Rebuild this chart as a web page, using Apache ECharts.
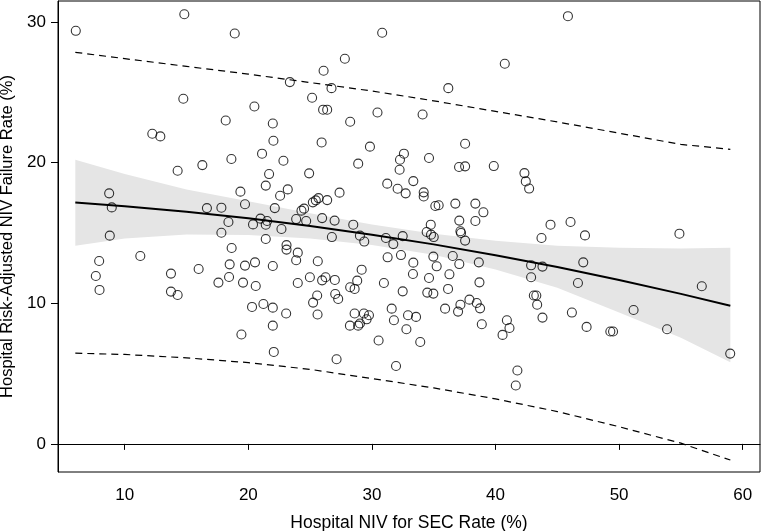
<!DOCTYPE html>
<html>
<head>
<meta charset="utf-8">
<script src="https://cdn.jsdelivr.net/npm/echarts@6/dist/echarts.min.js"></script>
<style>
html,body{margin:0;padding:0;background:#fff;}
#chart{width:762px;height:531px;}
</style>
</head>
<body>
<div id="chart"></div>
<script>
// Hospital points: [NIV for SEC rate %, risk-adjusted NIV failure rate %]
const hospitalX = [6.04,14.82,18.90,14.74,20.49,18.17,12.23,12.88,18.63,16.28,14.28,
30.83,27.81,40.75,26.09,23.36,26.73,36.18,25.16,26.05,26.38,30.45,34.10,21.98,28.24,22.03,25.93,37.54,29.84,21.11,22.84,32.59,32.27,34.62,28.89,37.05,37.54,39.86,32.24,21.68,24.92,
45.86,
8.74,8.95,8.79,7.93,7.66,7.96,11.26,13.74,13.74,14.28,15.98,16.65,17.82,19.36,19.73,18.39,17.82,18.65,20.38,18.49,19.73,18.44,17.58,19.57,20.30,19.44,
31.24,33.35,32.08,32.73,34.19,34.19,21.41,22.57,23.19,22.14,25.22,25.46,25.68,26.38,27.38,24.30,24.51,23.87,24.68,25.97,26.98,20.98,21.52,21.41,22.68,21.41,23.09,23.09,24.0,23.87,25.62,20.54,21.98,26.76,28.49,29.03,29.38,31.13,31.73,32.49,31.27,32.35,33.35,34.76,34.43,34.78,35.0,35.13,35.40,36.75,37.07,37.16,37.21,37.54,38.37,39.02,38.37,34.97,35.24,36.54,37.07,38.65,20.6,24.98,25.97,26.25,27.0,24.0,29.17,28.81,28.24,28.60,30.97,32.49,33.32,34.62,36.27,38.70,34.48,34.97,36.16,37.89,38.48,38.75,37.16,36.97,35.92,40.57,38.89,21.22,21.98,23.06,21.98,25.6,25.24,25.57,27.03,27.27,28.60,29.35,29.76,29.57,29.03,28.89,28.22,31.6,31.78,32.92,33.57,32.79,30.54,33.91,
42.34,42.45,42.72,44.45,46.07,43.72,47.24,54.88,47.1,42.88,43.80,42.88,46.67,43.1,43.3,43.37,43.80,46.18,47.37,49.29,49.51,51.17,53.88,56.69,40.92,41.13,
22.06,27.14,31.95,41.77,41.64,58.99];
const hospitalY = [29.38,30.56,29.19,24.55,24.0,23.0,22.06,21.87,20.26,19.83,19.43,
29.24,27.39,27.04,26.54,25.73,25.30,25.30,24.62,23.77,23.77,23.57,23.43,22.79,22.91,21.56,21.44,21.35,21.14,20.64,20.14,20.64,20.21,20.33,19.93,19.69,19.74,19.76,19.50,19.19,19.24,
30.42,
17.82,16.82,14.81,13.01,11.94,10.95,13.36,12.11,10.83,10.59,12.44,16.77,16.80,17.94,17.04,15.78,15.02,13.93,15.61,12.77,12.68,11.87,11.47,11.47,9.74,7.78,
18.51,18.69,18.15,17.82,17.89,17.60,18.37,17.65,18.10,16.77,17.18,17.32,17.48,17.34,17.87,16.59,16.73,15.99,15.85,16.06,15.88,16.02,15.85,15.59,15.28,14.57,14.14,13.82,13.6,13.06,12.99,12.91,12.65,14.71,15.59,14.81,14.39,14.64,14.21,14.78,13.27,13.43,12.89,15.59,15.07,14.88,14.71,16.92,16.97,17.09,15.88,15.12,15.0,14.46,17.09,16.47,15.85,13.32,12.63,13.36,12.79,12.91,11.23,11.85,11.63,11.85,11.66,11.44,12.39,11.61,11.14,11.02,11.44,10.85,12.08,11.8,12.06,11.49,10.76,10.69,11.02,10.26,10.02,9.64,9.9,9.41,9.62,7.75,8.51,9.95,9.69,9.27,8.41,9.2,10.05,10.55,10.66,10.31,9.27,9.27,9.15,8.86,8.56,8.41,8.41,9.62,8.79,9.15,9.03,8.15,7.35,7.25,
19.26,18.67,18.16,15.59,15.78,14.64,14.83,14.95,12.91,12.7,12.61,11.85,11.44,10.55,10.55,9.9,8.98,9.34,8.32,7.99,7.99,9.52,8.15,11.21,8.79,8.24,
6.54,6.02,5.54,5.22,4.15,6.42];

// Fitted curve, confidence band and prediction interval
const fitX    = [6, 10, 15, 20, 25, 30, 35, 40, 45, 50, 55, 59];
const fitY    = [17.16, 16.90, 16.51, 16.04, 15.50, 14.88, 14.19, 13.42, 12.58, 11.66, 10.67, 9.82];
const ciUpper = [20.2, 19.2, 18.1, 17.25, 16.4, 15.6, 14.95, 14.45, 14.1, 13.95, 13.9, 13.95];
const ciLower = [14.1, 14.6, 14.9, 14.85, 14.6, 14.15, 13.45, 12.4, 11.1, 9.35, 7.55, 5.8];
const piUpper = [27.85, 27.4, 26.85, 26.3, 25.7, 25.1, 24.4, 23.65, 22.9, 22.1, 21.3, 20.95];
const piLower = [6.45, 6.36, 6.12, 5.78, 5.3, 4.65, 3.98, 3.2, 2.3, 1.22, 0.05, -1.15];

const xTicks = [10, 20, 30, 40, 50, 60];
const yTicks = [0, 10, 20, 30];

const xName = 'Hospital NIV for SEC Rate (%)';
const yName = 'Hospital Risk-Adjusted NIV Failure Rate (%)';

const zip = (a, b) => a.map((v, i) => [v, b[i]]);
const FONT = '"Liberation Sans", Arial, Helvetica, sans-serif';

const chart = echarts.init(document.getElementById('chart'), null, {renderer: 'canvas'});
chart.setOption({
  animation: false,
  backgroundColor: '#fff',
  grid: {left: 58, right: 2, top: 1, bottom: 59, show: true, borderColor: '#000', borderWidth: 1,
         backgroundColor: 'transparent', containLabel: false, outerBoundsMode: 'none'},
  xAxis: {
    type: 'value', min: 4.6, max: 61.4,
    name: xName, nameLocation: 'middle', nameGap: 42,
    nameTextStyle: {fontFamily: FONT, fontSize: 17.5, color: '#000'},
    axisLine: {show: true, lineStyle: {color: '#000', width: 1}},
    axisTick: {show: true, length: 6, inside: false, lineStyle: {color: '#000', width: 1}, customValues: xTicks},
    axisLabel: {fontFamily: FONT, fontSize: 17, color: '#000', margin: 15, customValues: xTicks},
    splitLine: {show: false}
  },
  yAxis: {
    type: 'value', min: -2.0, max: 31.5,
    name: yName, nameLocation: 'middle', nameGap: 41,
    nameTextStyle: {fontFamily: FONT, fontSize: 16.5, color: '#000'},
    axisLine: {show: true, lineStyle: {color: '#000', width: 1}},
    axisTick: {show: true, length: 7, inside: false, lineStyle: {color: '#000', width: 1}, customValues: yTicks},
    axisLabel: {fontFamily: FONT, fontSize: 17, color: '#000', margin: 12, customValues: yTicks},
    splitLine: {show: false}
  },
  series: [
    {
      type: 'custom',
      silent: true,
      z: 1,
      data: [0],
      renderItem: function (params, api) {
        const pts = [];
        for (let i = 0; i < fitX.length; i++) pts.push(api.coord([fitX[i], ciUpper[i]]));
        for (let i = fitX.length - 1; i >= 0; i--) pts.push(api.coord([fitX[i], ciLower[i]]));
        return {type: 'polygon', shape: {points: pts}, style: {fill: '#e5e5e5', stroke: null}};
      }
    },
    {
      type: 'line', data: zip(fitX, piUpper), showSymbol: false, smooth: false, z: 2, silent: true,
      lineStyle: {color: '#000', width: 1.2, type: [7, 5]}
    },
    {
      type: 'line', data: zip(fitX, piLower), showSymbol: false, smooth: false, z: 2, silent: true,
      lineStyle: {color: '#000', width: 1.2, type: [7, 5]}
    },
    {
      type: 'line', data: zip(fitX, fitY), showSymbol: false, smooth: false, z: 3, silent: true,
      lineStyle: {color: '#000', width: 2}
    },
    {
      type: 'scatter', data: zip(hospitalX, hospitalY), symbol: 'circle', symbolSize: 9, z: 4,
      itemStyle: {color: 'rgba(255,255,255,0)', borderColor: '#000', borderWidth: 1.1}
    }
  ]
});
</script>
</body>
</html>
